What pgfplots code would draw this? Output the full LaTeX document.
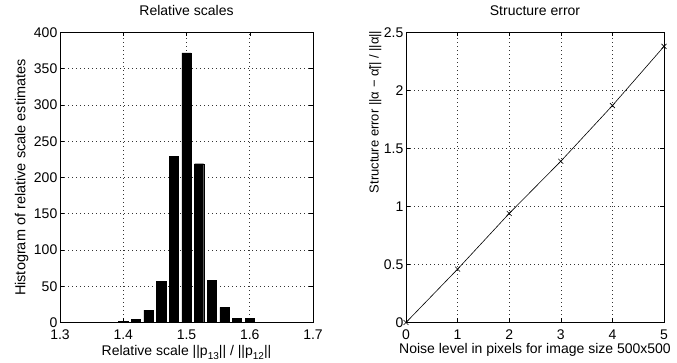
\documentclass[border=0pt]{standalone}
\usepackage{pgfplots}
\pgfplotsset{compat=1.18}
\usepackage{fontspec}
\setmainfont{Liberation Sans}
\newcommand{\sub}[1]{\raisebox{-4pt}{\fontsize{10}{11}\selectfont #1}}
\begin{document}
\fontsize{14}{16}\selectfont
\begin{tikzpicture}
\useasboundingbox (0pt,0pt) rectangle (677pt,363pt);
\pgfplotsset{every axis/.append style={
  scale only axis,
  /pgf/number format/assume math mode=true,
  tick align=inside,
  xtick pos=both, ytick pos=both,
  major tick length=4pt,
  grid=major,
  major grid style={black!80, line width=0.6pt, dash pattern=on 0.6pt off 3.4pt},
  axis line style={black, line width=0.7pt},
  tick style={black, line width=0.5pt},
  every tick label/.append style={font=\fontsize{14}{16}\selectfont},
  xticklabel style={inner sep=0pt, yshift=-7.5pt},
  yticklabel style={inner sep=0pt, xshift=-2.5pt},
  title style={font=\fontsize{14}{16}\selectfont, at={(axis description cs:0.5,1.038)}, anchor=base},
  xlabel style={font=\fontsize{14}{16}\selectfont, anchor=base},
}}
\begin{axis}[
  at={(60pt,40.5pt)}, anchor=south west,
  width=253pt, height=290pt,
  xmin=1.3, xmax=1.7, ymin=0, ymax=400,
  xtick={1.3,1.4,1.5,1.6,1.7},
  xticklabels={1.3,1.4,1.5,1.6,1.7},
  ytick={0,50,100,150,200,250,300,350,400},
  title={Relative scales},
  xlabel={Relative scale ||p\sub{13}|| / ||p\sub{12}||},
  xlabel style={at={(axis description cs:0.5,-0.1138)}},
  ylabel={Histogram of relative scale estimates},
  ylabel style={font=\fontsize{14.5}{16}\selectfont, at={(axis description cs:-0.1372,0.5)}, anchor=base},
]
\addplot[ybar, bar width=0.0145, bar shift=0pt, fill=black, draw=black] coordinates {
(1.40,2) (1.42,4) (1.44,17) (1.46,57) (1.48,229) (1.50,372) (1.52,219) (1.54,58) (1.56,21) (1.58,6) (1.60,6)
};
\end{axis}
\begin{axis}[
  at={(406pt,40.5pt)}, anchor=south west,
  width=258pt, height=290pt,
  xmin=0, xmax=5, ymin=0, ymax=2.5,
  xtick={0,1,2,3,4,5},
  ytick={0,0.5,1,1.5,2,2.5},
  yticklabels={0,0.5,1,1.5,2,2.5},
  title={Structure error},
  xlabel={Noise level in pixels for image size 500x500},
  xlabel style={at={(axis description cs:0.5,-0.106)}},
  ylabel={Structure error ||α − α̃|| / ||α||},
  ylabel style={font=\fontsize{13}{15}\selectfont, at={(axis description cs:-0.1066,0.726)}, anchor=base},
]
\addplot[black, line width=0.6pt, mark=x, mark size=3.5pt] coordinates {
(0,0) (1,0.46) (2,0.94) (3,1.39) (4,1.87) (5,2.38)
};
\end{axis}
\end{tikzpicture}
\end{document}
